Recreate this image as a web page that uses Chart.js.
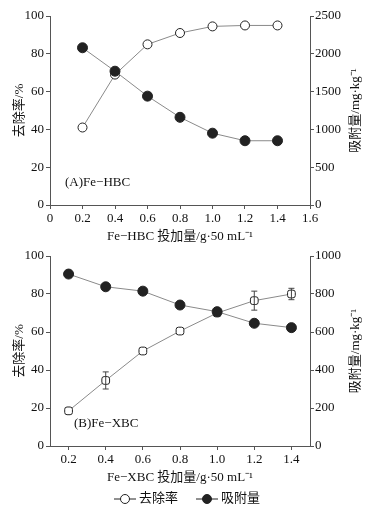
<!DOCTYPE html>
<html>
<head>
<meta charset="utf-8">
<script src="https://cdn.jsdelivr.net/npm/chart.js@4.4.1/dist/chart.umd.min.js"></script>
<style>
    html, body { margin:0; padding:0; background:#fff; }
    #wrap { position:relative; width:392px; height:513px; }
    #chartA { position:absolute; left:0; top:0; }
    #chartB { position:absolute; left:0; top:240px; }
</style>
</head>
<body>
<div id="wrap">
    <canvas id="chartA" width="392" height="250"></canvas>
    <canvas id="chartB" width="392" height="273"></canvas>
</div>
<script>
// doses (g / 50 mL)
const doses = [0.2, 0.4, 0.6, 0.8, 1.0, 1.2, 1.4];

// (A) Fe-HBC
const removalA = [41, 69, 85, 91, 94.5, 95, 95];            // 去除率 %
const adsorptionA = [2080, 1770, 1440, 1160, 950, 850, 850]; // 吸附量 mg/kg
const xTicksA = [0, 0.2, 0.4, 0.6, 0.8, 1.0, 1.2, 1.4, 1.6];
const yLeftTicksA = [0, 20, 40, 60, 80, 100];
const yRightTicksA = [0, 500, 1000, 1500, 2000, 2500];

// (B) Fe-XBC
const removalB = [18.5, 34.5, 50, 60.5, 70, 76.5, 80];
const removalErrB = [1, 4.5, 1, 1, 1.5, 5, 3];
const adsorptionB = [905, 838, 815, 742, 707, 646, 623];
const xTicksB = [0.2, 0.4, 0.6, 0.8, 1.0, 1.2, 1.4];
const yLeftTicksB = [0, 20, 40, 60, 80, 100];
const yRightTicksB = [0, 200, 400, 600, 800, 1000];

const legendLabels = ["去除率", "吸附量"];

const FONT = "'Liberation Serif', 'Noto Sans CJK SC', serif";
const AXIS = "#555";
const LINE = "#8a8a8a";
const MARK = "#222";

let fmtX = (v)=>(v===0 ? "0" : v.toFixed(1));
let fmtY = (v)=>String(v);

let makeChart = (canvas, opt)=>{
    let removalStyle = opt.removalStyle;
    let errPlugin = {
        "id": "errBars",
        afterDatasetsDraw: (chart)=>{
            if(!opt.removalErr) return;
            let ctx = chart.ctx, xs = chart.scales.x, ys = chart.scales.yL;
            ctx.save();
            ctx.strokeStyle = "#444";
            ctx.lineWidth = 1;
            doses.forEach((d, i)=>{
                let e = opt.removalErr[i];
                if(e < 2) return;
                let x = xs.getPixelForValue(d);
                let y1 = ys.getPixelForValue(opt.removal[i] + e);
                let y2 = ys.getPixelForValue(opt.removal[i] - e);
                ctx.beginPath();
                ctx.moveTo(x, y1); ctx.lineTo(x, y2);
                ctx.moveTo(x-3, y1); ctx.lineTo(x+3, y1);
                ctx.moveTo(x-3, y2); ctx.lineTo(x+3, y2);
                ctx.stroke();
            });
            ctx.restore();
        },
    };
    let textPlugin = {
        "id": "texts",
        afterDraw: (chart)=>{
            let ctx = chart.ctx, a = chart.chartArea;
            ctx.save();
            ctx.fillStyle = "#111";
            ctx.font = "13px " + FONT;
            // panel label
            ctx.textAlign = "left";
            ctx.textBaseline = "middle";
            ctx.fillText(opt.panel, a.left + opt.panelDx, a.bottom - 22);
            // x title
            ctx.textAlign = "center";
            ctx.fillText(opt.xTitle, 180, a.bottom + 32);
            // left title
            ctx.save();
            ctx.translate(20, (a.top + a.bottom)/2);
            ctx.rotate(-Math.PI/2);
            ctx.fillText("去除率/%", 0, 0);
            ctx.restore();
            // right title
            ctx.save();
            ctx.translate(356, (a.top + a.bottom)/2);
            ctx.rotate(-Math.PI/2);
            ctx.fillText("吸附量/mg·kg⁻¹", 0, 0);
            ctx.restore();
            // legend
            if(opt.legend){
                let ly = 259;
                let items = [
                    {"x": 114, "fill": "#fff", "text": legendLabels[0]},
                    {"x": 196, "fill": MARK, "text": legendLabels[1]},
                ];
                items.forEach((it)=>{
                    ctx.strokeStyle = MARK;
                    ctx.lineWidth = 1;
                    ctx.beginPath();
                    ctx.moveTo(it.x, ly); ctx.lineTo(it.x + 22, ly);
                    ctx.stroke();
                    ctx.beginPath();
                    ctx.arc(it.x + 11, ly, 4.5, 0, Math.PI*2);
                    ctx.fillStyle = it.fill;
                    ctx.fill();
                    ctx.stroke();
                    ctx.fillStyle = "#111";
                    ctx.textAlign = "left";
                    ctx.fillText(it.text, it.x + 25, ly);
                });
            }
            ctx.restore();
        },
    };
    let tickFont = {"size": 13, "family": FONT};
    let setTicks = (list)=>((scale)=>{ scale.ticks = list.map(v=>({"value": v})); });
    return new Chart(canvas, {
        "type": "line",
        "data": {
            "datasets": [
                {
                    "label": legendLabels[0],
                    "data": doses.map((d, i)=>({"x": d, "y": opt.removal[i]})),
                    "yAxisID": "yL",
                    "borderColor": LINE,
                    "borderWidth": 1,
                    "pointStyle": removalStyle,
                    "pointRadius": 4.5,
                    "pointBackgroundColor": "#fff",
                    "pointBorderColor": MARK,
                    "pointBorderWidth": 1,
                    "order": 1,
                },
                {
                    "label": legendLabels[1],
                    "data": doses.map((d, i)=>({"x": d, "y": opt.adsorption[i]})),
                    "yAxisID": "yR",
                    "borderColor": LINE,
                    "borderWidth": 1,
                    "pointStyle": "circle",
                    "pointRadius": 5,
                    "pointBackgroundColor": MARK,
                    "pointBorderColor": MARK,
                    "pointBorderWidth": 1,
                    "order": 0,
                },
            ],
        },
        "options": {
            "responsive": false,
            "animation": false,
            "layout": {"padding": {"top": 16, "left": 0, "right": 0, "bottom": 0}},
            "plugins": {"legend": {"display": false}, "tooltip": {"enabled": false}},
            "scales": {
                "x": {
                    "type": "linear",
                    "min": opt.xMin, "max": opt.xMax,
                    "afterBuildTicks": setTicks(opt.xTicks),
                    "afterFit": (s)=>{ s.height = opt.xHeight; },
                    "border": {"color": AXIS},
                    "grid": {"drawOnChartArea": false, "color": AXIS, "tickLength": 4},
                    "ticks": {"color": "#111", "font": tickFont, "padding": 2, "maxRotation": 0, "callback": fmtX},
                },
                "yL": {
                    "position": "left",
                    "min": 0, "max": 100,
                    "afterBuildTicks": setTicks(opt.yLeftTicks),
                    "afterFit": (s)=>{ s.width = 50; },
                    "border": {"color": AXIS},
                    "grid": {"drawOnChartArea": false, "color": AXIS, "tickLength": 4},
                    "ticks": {"color": "#111", "font": tickFont, "padding": 2, "callback": fmtY},
                },
                "yR": {
                    "position": "right",
                    "min": 0, "max": opt.yRightMax,
                    "afterBuildTicks": setTicks(opt.yRightTicks),
                    "afterFit": (s)=>{ s.width = 82; },
                    "border": {"color": AXIS},
                    "grid": {"drawOnChartArea": false, "color": AXIS, "tickLength": 4},
                    "ticks": {"color": "#111", "font": tickFont, "padding": 1, "callback": fmtY},
                },
            },
        },
        "plugins": [errPlugin, textPlugin],
    });
};

makeChart(document.getElementById("chartA"), {
    "removal": removalA, "adsorption": adsorptionA, "removalErr": null,
    "removalStyle": "circle",
    "xMin": 0, "xMax": 1.6, "xTicks": xTicksA,
    "yLeftTicks": yLeftTicksA, "yRightTicks": yRightTicksA, "yRightMax": 2500,
    "xHeight": 45, "panel": "(A)Fe−HBC", "panelDx": 15,
    "xTitle": "Fe−HBC 投加量/g·50 mL⁻¹", "legend": false,
});

makeChart(document.getElementById("chartB"), {
    "removal": removalB, "adsorption": adsorptionB, "removalErr": removalErrB,
    "removalStyle": "rectRounded",
    "xMin": 0.1, "xMax": 1.5, "xTicks": xTicksB,
    "yLeftTicks": yLeftTicksB, "yRightTicks": yRightTicksB, "yRightMax": 1000,
    "xHeight": 67, "panel": "(B)Fe−XBC", "panelDx": 24,
    "xTitle": "Fe−XBC 投加量/g·50 mL⁻¹", "legend": true,
});
</script>
</body>
</html>
